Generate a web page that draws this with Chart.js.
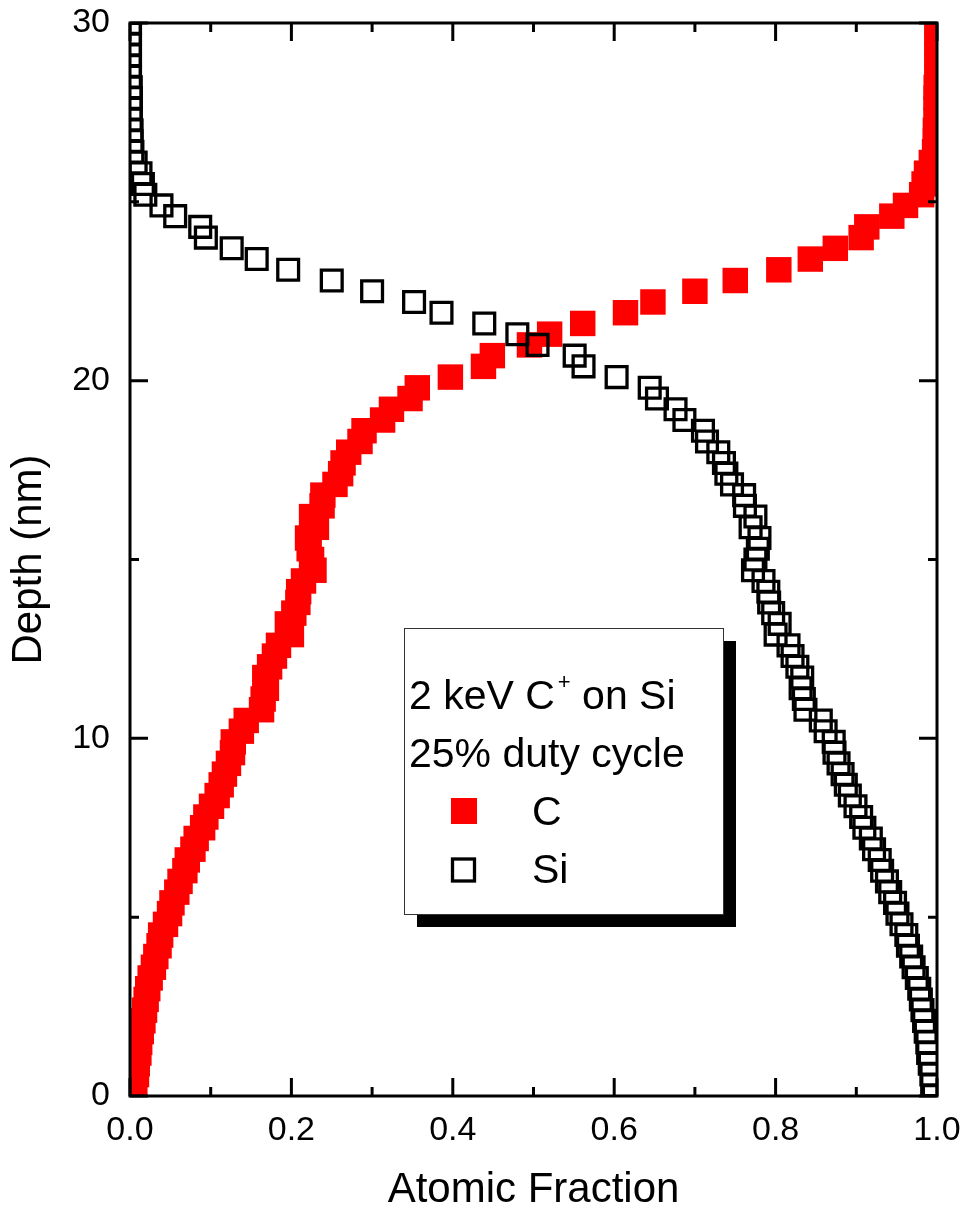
<!DOCTYPE html>
<html>
<head>
<meta charset="utf-8">
<script src="https://cdn.jsdelivr.net/npm/chart.js@4.4.1/dist/chart.umd.min.js"></script>
<style>
  html, body { margin: 0; padding: 0; background: #fff; }
  #wrap { width: 967px; height: 1220px; position: relative; }
</style>
</head>
<body>
<div id="wrap"><canvas id="depthProfileChart"></canvas></div>
<script>
// depth steps (nm)
const depthNm = [
  0, 0.3, 0.6, 0.9, 1.2, 1.5, 1.8, 2.1, 2.4, 2.7,
  3, 3.3, 3.6, 3.9, 4.2, 4.5, 4.8, 5.1, 5.4, 5.7,
  6, 6.3, 6.6, 6.9, 7.2, 7.5, 7.8, 8.1, 8.4, 8.7,
  9, 9.3, 9.6, 9.9, 10.2, 10.5, 10.8, 11.1, 11.4, 11.7,
  12, 12.3, 12.6, 12.9, 13.2, 13.5, 13.8, 14.1, 14.4, 14.7,
  15, 15.3, 15.6, 15.9, 16.2, 16.5, 16.8, 17.1, 17.4, 17.7,
  18, 18.3, 18.6, 18.9, 19.2, 19.5, 19.8, 20.1, 20.4, 20.7,
  21, 21.3, 21.6, 21.9, 22.2, 22.5, 22.8, 23.1, 23.4, 23.7,
  24, 24.3, 24.6, 24.9, 25.2, 25.5, 25.8, 26.1, 26.4, 26.7,
  27, 27.3, 27.6, 27.9, 28.2, 28.5, 28.8, 29.1, 29.4, 29.7,
  30
];

// carbon atomic fraction at each depth
const cFraction = [
  0.005, 0.006, 0.008, 0.009, 0.011, 0.012, 0.014, 0.016, 0.018, 0.020,
  0.022, 0.025, 0.029, 0.032, 0.036, 0.038, 0.044, 0.049, 0.052, 0.058,
  0.062, 0.068, 0.071, 0.078, 0.082, 0.090, 0.094, 0.101, 0.108, 0.113,
  0.117, 0.122, 0.127, 0.128, 0.138, 0.144, 0.163, 0.165, 0.169, 0.167,
  0.173, 0.179, 0.184, 0.200, 0.195, 0.203, 0.208, 0.209, 0.215, 0.228,
  0.225, 0.222, 0.220, 0.231, 0.225, 0.238, 0.239, 0.254, 0.261, 0.264,
  0.271, 0.285, 0.290, 0.313, 0.324, 0.347, 0.356, 0.397, 0.438, 0.449,
  0.495, 0.520, 0.561, 0.614, 0.648, 0.700, 0.750, 0.804, 0.843, 0.874,
  0.906, 0.913, 0.944, 0.961, 0.981, 0.984, 0.987, 0.993, 0.997, 0.998,
  0.998, 0.999, 0.999, 0.999, 0.999, 1.000, 1.000, 1.000, 1.000, 1.000,
  1.000
];

// silicon atomic fraction at each depth
const siFraction = [
  0.996, 0.994, 0.993, 0.991, 0.989, 0.988, 0.986, 0.984, 0.982, 0.980,
  0.978, 0.975, 0.971, 0.968, 0.964, 0.962, 0.956, 0.951, 0.948, 0.942,
  0.938, 0.932, 0.929, 0.922, 0.918, 0.910, 0.906, 0.899, 0.892, 0.887,
  0.883, 0.878, 0.873, 0.872, 0.862, 0.856, 0.837, 0.835, 0.831, 0.833,
  0.827, 0.821, 0.816, 0.800, 0.805, 0.797, 0.792, 0.791, 0.785, 0.772,
  0.775, 0.778, 0.780, 0.769, 0.775, 0.762, 0.761, 0.746, 0.739, 0.736,
  0.729, 0.715, 0.710, 0.687, 0.676, 0.653, 0.644, 0.603, 0.562, 0.551,
  0.505, 0.480, 0.439, 0.386, 0.352, 0.300, 0.250, 0.196, 0.157, 0.126,
  0.094, 0.087, 0.056, 0.039, 0.019, 0.016, 0.013, 0.007, 0.003, 0.002,
  0.002, 0.001, 0.001, 0.001, 0.001, 0.000, 0.000, 0.000, 0.000, 0.000,
  0.000
];

// tick labels
const xTickValues = [0, 0.2, 0.4, 0.6, 0.8, 1.0];
const xMinorTicks = [0.1, 0.3, 0.5, 0.7, 0.9];
const yTickValues = [0, 10, 20, 30];
const yMinorTicks = [5, 15, 25];

const legendLines = ['2 keV C', '+', ' on Si', '25% duty cycle'];
const seriesNames = ['C', 'Si'];

const FONT = "'Liberation Sans', Arial, sans-serif";

//frame with inward ticks on all four sides
const frameTicks = {
  id: 'frameTicks',
  afterDatasetsDraw(chart) {
    const {ctx, chartArea: a, scales: {x, y}} = chart;
    ctx.save();
    ctx.strokeStyle = '#000';
    ctx.lineWidth = 3;
    ctx.strokeRect(a.left, a.top, a.right - a.left, a.bottom - a.top);
    ctx.beginPath();
    const tickX = (v, len) => {
      const px = x.getPixelForValue(v);
      ctx.moveTo(px, a.bottom); ctx.lineTo(px, a.bottom - len);
      ctx.moveTo(px, a.top); ctx.lineTo(px, a.top + len);
    };
    const tickY = (v, len) => {
      const py = y.getPixelForValue(v);
      ctx.moveTo(a.left, py); ctx.lineTo(a.left + len, py);
      ctx.moveTo(a.right, py); ctx.lineTo(a.right - len, py);
    };
    xTickValues.forEach(v => tickX(v, 18));
    xMinorTicks.forEach(v => tickX(v, 9));
    yTickValues.forEach(v => tickY(v, 18));
    yMinorTicks.forEach(v => tickY(v, 9));
    ctx.stroke();
    ctx.restore();
  }
};

//legend box with drop shadow
const legendBox = {
  id: 'legendBox',
  afterDatasetsDraw(chart) {
    const {ctx, chartArea: a} = chart;
    const bx = a.left + 274, by = a.top + 605, bw = 319, bh = 286;
    ctx.save();
    ctx.fillStyle = '#000';
    ctx.fillRect(bx + 13, by + 13, bw, bh);
    ctx.fillStyle = '#fff';
    ctx.fillRect(bx, by, bw, bh);
    ctx.strokeStyle = '#333';
    ctx.lineWidth = 1;
    ctx.strokeRect(bx + 0.5, by + 0.5, bw, bh);

    ctx.fillStyle = '#000';
    ctx.textBaseline = 'alphabetic';
    ctx.textAlign = 'left';
    ctx.font = '41px ' + FONT;
    let tx = bx + 5;
    ctx.fillText(legendLines[0], tx, by + 81);
    tx += ctx.measureText(legendLines[0]).width + 3;
    ctx.font = '22px ' + FONT;
    ctx.fillText(legendLines[1], tx, by + 61);
    tx += ctx.measureText(legendLines[1]).width;
    ctx.font = '41px ' + FONT;
    ctx.fillText(legendLines[2], tx, by + 81);
    ctx.fillText(legendLines[3], bx + 5, by + 139);

    // series keys
    ctx.fillStyle = '#ff0000';
    ctx.fillRect(bx + 47, by + 170, 26, 26);
    ctx.strokeStyle = '#000';
    ctx.lineWidth = 3.3;
    ctx.strokeRect(bx + 48.5, by + 231, 22, 22);
    ctx.fillStyle = '#000';
    ctx.fillText(seriesNames[0], bx + 128, by + 197);
    ctx.fillText(seriesNames[1], bx + 128, by + 255);
    ctx.restore();
  }
};

//setup block
const depthProfileData = {
  datasets: [
    {
      label: seriesNames[1],
      data: depthNm.map((d, i) => ({x: siFraction[i], y: d})),
      pointStyle: 'rect',
      pointRadius: 14.7,
      pointHoverRadius: 14.7,
      borderWidth: 3.3,
      borderColor: '#000',
      backgroundColor: 'rgba(0,0,0,0)',
      showLine: false,
      clip: 0,
      order: 1
    },
    {
      label: seriesNames[0],
      data: depthNm.map((d, i) => ({x: cFraction[i], y: d})),
      pointStyle: 'rect',
      pointRadius: 18,
      pointHoverRadius: 18,
      borderWidth: 0,
      backgroundColor: '#ff0000',
      showLine: false,
      clip: 0,
      order: 2
    }
  ]
};

//options
const depthProfileOptions = {
  responsive: true,
  maintainAspectRatio: false,
  animation: false,
  events: [],
  layout: { padding: { top: 23, right: 30, left: 0, bottom: 0 } },
  plugins: {
    legend: { display: false },
    tooltip: { enabled: false }
  },
  scales: {
    x: {
      type: 'linear',
      min: 0,
      max: 1,
      afterBuildTicks: s => { s.ticks = xTickValues.map(v => ({ value: v })); },
      afterFit: s => {
        s.height = 124;
        s.paddingLeft = 0;
        s.paddingRight = 0;
      },
      grid: { display: false, drawTicks: false },
      border: { display: false },
      ticks: {
        callback: v => v.toFixed(1),
        color: '#000',
        padding: 14,
        maxRotation: 0,
        font: { family: FONT, size: 34 }
      },
      title: {
        display: true,
        text: 'Atomic Fraction',
        color: '#000',
        padding: { top: 4, bottom: 4 },
        font: { family: FONT, size: 42 }
      }
    },
    y: {
      type: 'linear',
      min: 0,
      max: 30,
      afterBuildTicks: s => { s.ticks = yTickValues.map(v => ({ value: v })); },
      afterFit: s => {
        s.width = 130;
        s.paddingTop = 0;
        s.paddingBottom = 0;
      },
      grid: { display: false, drawTicks: false },
      border: { display: false },
      ticks: {
        color: '#000',
        padding: 20,
        font: { family: FONT, size: 34 }
      },
      title: {
        display: true,
        text: 'Depth (nm)',
        color: '#000',
        padding: { top: 4, bottom: 4 },
        font: { family: FONT, size: 42 }
      }
    }
  }
};

//config block
const depthProfileConfig = {
  type: 'scatter',
  data: depthProfileData,
  options: depthProfileOptions,
  plugins: [legendBox, frameTicks]
};

//render block
const depthProfileChart = new Chart(
  document.getElementById('depthProfileChart'), depthProfileConfig
);
</script>
</body>
</html>
